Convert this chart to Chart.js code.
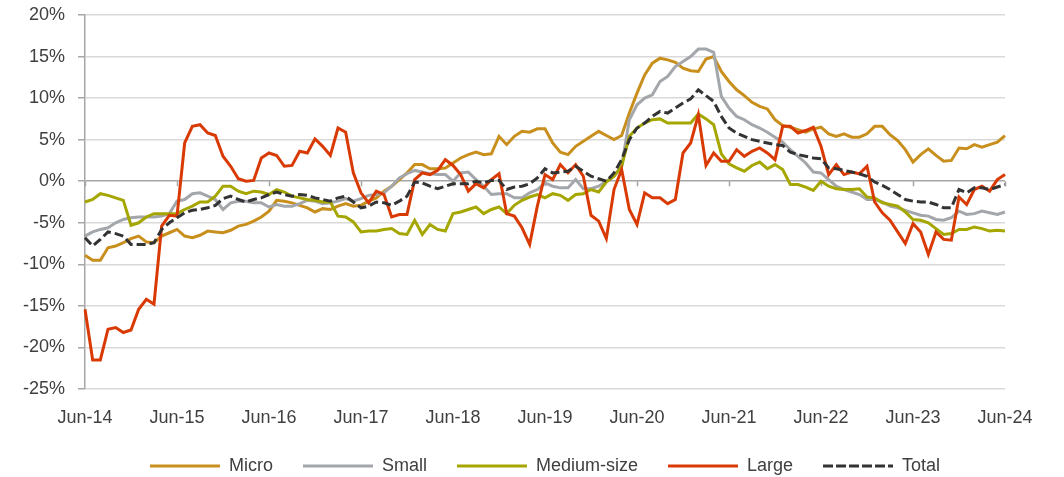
<!DOCTYPE html>
<html>
<head>
<meta charset="utf-8">
<script src="https://cdn.jsdelivr.net/npm/chart.js@4/dist/chart.umd.min.js"></script>
<style>
  html, body { margin: 0; padding: 0; background: #ffffff; }
  #wrap { width: 1064px; height: 477px; }
</style>
</head>
<body>
<div id="wrap"><canvas id="c" width="1064" height="477"></canvas></div>
<script>
// ---- Data (monthly, Jun-14 .. Jun-24) ----
const monthNames = ['Jun','Jul','Aug','Sep','Oct','Nov','Dec','Jan','Feb','Mar','Apr','May'];
const categories = [];
for (let y = 14; y <= 24; y++) {
  for (let k = 0; k < 12; k++) {
    const yr = k < 7 ? y : y + 1;
    if (y === 24 && k > 0) break;
    categories.push(monthNames[k] + '-' + yr);
  }
}
const seriesNames = ['Micro', 'Small', 'Medium-size', 'Large', 'Total'];
const tickLabelEvery = 12; // June of each year

const micro = [
  -8.9,-9.5,-9.5,-8.0,-7.8,-7.4,-6.9,-6.6,-7.3,-7.4,-6.6,-6.2,
  -5.8,-6.6,-6.8,-6.5,-6.0,-6.1,-6.2,-5.9,-5.4,-5.2,-4.8,-4.3,
  -3.6,-2.3,-2.4,-2.6,-2.9,-3.2,-3.7,-3.3,-3.4,-3.0,-2.7,-3.0,
  -2.9,-2.4,-2.0,-1.2,-0.6,0.2,1.0,2.0,2.0,1.5,1.5,1.6,
  2.2,2.8,3.2,3.5,3.2,3.3,5.4,4.4,5.4,6.0,5.9,6.3,
  6.3,4.6,3.5,3.2,4.2,4.8,5.4,6.0,5.5,5.0,5.5,8.2,
  10.6,12.8,14.2,14.8,14.6,14.3,13.6,13.3,13.2,14.7,15.0,13.2,
  12.0,11.0,10.3,9.5,9.0,8.7,7.4,6.7,6.5,6.2,5.9,6.3,
  6.5,5.7,5.4,5.7,5.3,5.3,5.7,6.6,6.6,5.6,4.9,3.8,
  2.3,3.2,3.9,3.1,2.4,2.5,4.0,3.9,4.4,4.1,4.4,4.7,
  5.5
];
const small = [
  -6.6,-6.1,-5.8,-5.6,-5.0,-4.6,-4.4,-4.3,-4.3,-4.3,-4.2,-3.9,
  -2.4,-2.2,-1.5,-1.4,-1.8,-2.2,-3.4,-2.6,-2.4,-2.4,-2.6,-2.6,
  -3.1,-2.8,-3.0,-3.0,-2.7,-2.3,-2.4,-2.7,-2.6,-2.4,-2.1,-2.4,
  -2.1,-1.7,-1.6,-1.4,-0.6,0.4,0.9,1.3,1.1,0.9,0.8,0.8,
  0.0,1.0,1.1,0.2,-0.6,-1.6,-1.5,-1.5,-2.0,-2.0,-1.4,-1.0,
  -0.2,-0.6,-0.8,-0.8,0.2,-0.9,-0.9,-0.6,0.0,0.6,1.8,7.4,
  9.2,10.0,10.4,12.0,12.6,13.8,14.4,15.0,15.9,15.9,15.5,10.2,
  8.8,7.8,7.4,6.8,6.4,5.9,5.3,4.7,3.8,3.0,2.2,1.1,
  1.0,0.2,-0.6,-1.0,-1.3,-1.6,-2.2,-2.2,-2.5,-3.0,-3.2,-3.5,
  -3.8,-4.1,-4.2,-4.6,-4.7,-4.4,-3.6,-4.0,-3.9,-3.6,-3.8,-4.0,
  -3.7
];
const medium = [
  -2.5,-2.2,-1.5,-1.7,-2.0,-2.3,-5.3,-5.0,-4.3,-3.9,-3.9,-3.9,
  -3.9,-3.4,-3.0,-2.5,-2.5,-1.8,-0.6,-0.6,-1.2,-1.5,-1.2,-1.3,
  -1.6,-1.0,-1.3,-1.8,-2.0,-2.2,-2.3,-2.5,-2.5,-4.2,-4.3,-4.9,
  -6.1,-6.0,-6.0,-5.8,-5.7,-6.3,-6.4,-4.7,-6.4,-5.2,-5.8,-6.0,
  -3.9,-3.7,-3.4,-3.1,-3.9,-3.4,-3.1,-3.9,-2.9,-2.3,-1.9,-1.6,
  -2.0,-1.5,-1.7,-2.3,-1.6,-1.5,-1.0,-1.3,-0.1,0.6,1.8,5.4,
  6.4,7.0,7.4,7.5,7.0,7.0,7.0,7.0,8.1,7.5,6.8,3.3,
  2.1,1.6,1.2,1.9,2.3,1.5,2.0,1.4,-0.4,-0.4,-0.7,-1.1,
  0.0,-0.6,-0.9,-1.0,-1.0,-0.9,-1.9,-2.0,-2.6,-2.8,-3.0,-3.7,
  -4.6,-4.7,-5.0,-5.7,-6.4,-6.3,-5.8,-5.8,-5.5,-5.7,-6.0,-5.9,
  -6.0
];
const large = [
  -15.4,-21.5,-21.5,-17.8,-17.6,-18.2,-17.9,-15.4,-14.2,-14.8,-5.4,-4.1,
  -4.2,4.6,6.6,6.8,5.8,5.5,3.0,1.8,0.3,0.0,0.1,2.8,
  3.4,3.1,1.8,1.9,3.6,3.4,5.1,4.2,3.1,6.4,5.9,1.0,
  -1.4,-2.6,-1.2,-1.6,-4.3,-4.0,-4.0,0.2,1.0,0.8,1.3,2.6,
  1.9,0.8,-1.2,-0.3,-0.8,0.2,0.9,-3.9,-4.2,-5.6,-7.6,-3.0,
  0.8,0.2,2.0,1.0,2.0,0.6,-4.1,-4.8,-6.9,-1.0,1.4,-3.4,
  -5.2,-1.4,-2.0,-2.0,-2.7,-2.2,3.4,4.6,8.0,1.9,3.4,2.4,
  2.4,3.8,3.0,3.6,4.0,3.4,2.6,6.6,6.6,5.8,6.1,6.5,
  4.2,0.8,2.0,0.8,1.1,0.9,1.8,-2.5,-3.8,-4.7,-6.1,-7.5,
  -5.1,-6.1,-8.8,-6.1,-7.0,-7.1,-1.9,-2.8,-1.0,-0.6,-1.2,0.2,
  0.8
];
const total = [
  -6.8,-7.8,-7.0,-6.1,-6.3,-6.6,-7.6,-7.6,-7.6,-7.4,-5.8,-5.0,
  -4.4,-3.8,-3.5,-3.4,-3.2,-2.9,-2.1,-1.8,-2.2,-2.5,-2.2,-2.0,
  -1.6,-1.3,-1.6,-1.8,-1.6,-1.7,-2.0,-2.2,-2.4,-2.0,-1.8,-2.5,
  -3.2,-3.0,-2.5,-2.6,-2.9,-2.4,-1.8,-0.1,-0.2,-0.6,-0.9,-0.6,
  -0.3,-0.3,-0.3,0.0,-0.2,0.1,0.1,-1.0,-0.7,-0.6,-0.3,0.4,
  1.5,1.0,1.1,1.2,1.8,1.2,0.6,0.3,0.0,1.0,2.6,5.0,
  6.4,7.0,7.8,8.4,8.2,8.8,9.4,9.9,11.0,10.3,9.6,7.8,
  6.4,5.8,5.4,5.0,4.8,4.6,4.4,4.3,3.5,3.2,3.0,2.8,
  2.7,1.6,1.5,1.3,1.1,0.9,0.6,-0.1,-0.5,-1.0,-1.6,-2.2,
  -2.4,-2.5,-2.5,-2.8,-3.2,-3.2,-1.0,-1.4,-0.8,-0.8,-1.0,-0.7,
  -0.4
];

// ---- Styles ----
const colors = ['#C98F1C', '#A3A6AB', '#A5A600', '#D93A04', '#333333'];
const seriesData = [micro, small, medium, large, total];

const zeroTicks = {
  id: 'zeroTicks',
  beforeDatasetsDraw(chart) {
    const xs = chart.scales.x, ys = chart.scales.y;
    const y0 = ys.getPixelForValue(0);
    const ctx = chart.ctx;
    ctx.save();
    ctx.strokeStyle = '#A6A6A6';
    ctx.lineWidth = 1.5;
    ctx.beginPath();
    for (let i = 0; i < categories.length; i += tickLabelEvery) {
      const x = Math.round(xs.getPixelForValue(i)) + 0.5;
      ctx.moveTo(x, y0);
      ctx.lineTo(x, y0 + 5);
    }
    ctx.stroke();
    ctx.restore();
  }
};

Chart.defaults.font.family = "'Liberation Sans', Arial, sans-serif";
Chart.defaults.font.size = 18;
Chart.defaults.color = '#404040';

const datasets = seriesNames.map((name, i) => ({
  label: name,
  data: seriesData[i],
  borderColor: colors[i],
  backgroundColor: colors[i],
  borderWidth: 3,
  borderDash: i === 4 ? [9, 4] : [],
  pointRadius: 0,
  tension: 0,
  fill: false,
  order: 5 - i
}));

new Chart(document.getElementById('c'), {
  type: 'line',
  data: { labels: categories, datasets },
  plugins: [zeroTicks],
  options: {
    responsive: false,
    animation: false,
    devicePixelRatio: 1,
    layout: { padding: { left: 0, right: 59, top: 15, bottom: 0 } },
    plugins: {
      tooltip: { enabled: false },
      legend: {
        position: 'bottom',
        fullSize: false,
        maxHeight: 50,
        labels: {
          boxWidth: 70,
          boxHeight: 0,
          padding: 30,
          color: '#404040',
          font: { size: 18 },
          sort: (a, b) => a.datasetIndex - b.datasetIndex
        }
      }
    },
    scales: {
      x: {
        type: 'category',
        offset: false,
        grid: { display: false, drawTicks: false },
        border: { display: false },
        afterFit: (s) => { s.height = 38; },
        ticks: {
          autoSkip: false,
          maxRotation: 0,
          minRotation: 0,
          padding: 18,
          color: '#404040',
          callback: (v, i) => (i % tickLabelEvery === 0 ? categories[i] : null)
        }
      },
      y: {
        min: -25,
        max: 20,
        afterFit: (s) => { s.width = 85; s.paddingTop = 0; s.paddingBottom = 0; },
        border: { display: true, color: '#A6A6A6', width: 1.5 },
        grid: {
          color: (c) => (c.tick && c.tick.value === 0 ? '#A6A6A6' : '#D9D9D9'),
          lineWidth: 1.5,
          tickLength: 7,
          tickColor: '#A6A6A6'
        },
        ticks: {
          stepSize: 5,
          padding: 13,
          color: '#404040',
          callback: (v) => v + '%'
        }
      }
    }
  }
});
</script>
</body>
</html>
